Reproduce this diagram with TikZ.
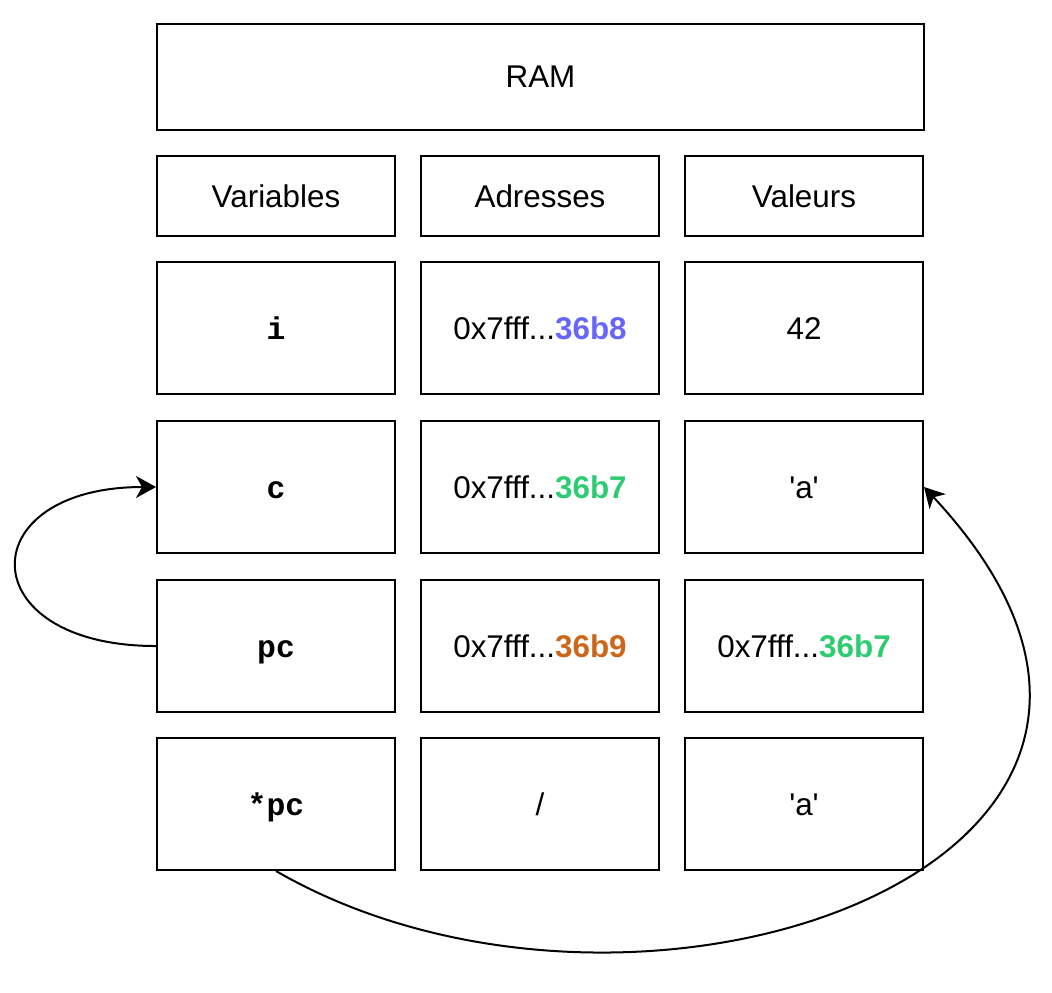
\documentclass[tikz,border=0pt]{standalone}
\usepackage{fontspec}
\setmainfont{Liberation Sans}
\setmonofont{Liberation Mono}
\usetikzlibrary{positioning,arrows.meta}

\definecolor{adrblue}{HTML}{6666FF}
\definecolor{adrgreen}{HTML}{2ECC71}
\definecolor{adrorange}{HTML}{CC6619}

\newcommand{\var}[1]{\texttt{\bfseries #1}}
\newcommand{\qa}{\textquotesingle a\textquotesingle}

\begin{document}
\begin{tikzpicture}[x=0.5pt, y=-0.5pt, font=\fontsize{15.7}{18}\selectfont,
			cell/.style={draw, line width=1pt, minimum width=119pt, inner sep=0pt,
				text height=12pt, text depth=1pt},
			head/.style={cell, minimum height=40pt},
			row/.style={cell, minimum height=66pt},
			link/.style={line width=1pt, -{Stealth[length=10pt,width=11pt,inset=3pt]}}]
		\useasboundingbox (0,0) rectangle (1052,992);
		\node[draw, line width=1pt, minimum width=383.5pt, minimum height=53pt] (ram) at (540.5,77) {RAM};
		% en-tetes
		\node[head, below right=12pt and 0pt of ram.south west] (hvar) {Variables};
		\node[head, right=12pt of hvar] (hadr) {Adresses};
		\node[head, right=12pt of hadr] (hval) {Valeurs};
		% i
		\node[row, below=12pt of hvar] (vi) {\var{i}};
		\node[row, right=12pt of vi] (ai) {0x7fff...\textcolor{adrblue}{\bfseries 36b8}};
		\node[row, right=12pt of ai] (wi) {42};
		% c
		\node[row, below=12.5pt of vi] (vc) {\var{c}};
		\node[row, right=12pt of vc] (ac) {0x7fff...\textcolor{adrgreen}{\bfseries 36b7}};
		\node[row, right=12pt of ac] (wc) {\qa};
		% pc
		\node[row, below=12.5pt of vc] (vpc) {\var{pc}};
		\node[row, right=12pt of vpc] (apc) {0x7fff...\textcolor{adrorange}{\bfseries 36b9}};
		\node[row, right=12pt of apc] (wpc) {0x7fff...\textcolor{adrgreen}{\bfseries 36b7}};
		% *pc
		\node[row, below=12pt of vpc] (vspc) {\var{*pc}};
		\node[row, right=12pt of vspc] (aspc) {/};
		\node[row, right=12pt of aspc] (wspc) {\qa};
		% pointeurs
		\draw[link] (vpc.west) to[out=180, in=180, looseness=3] (vc.west);
		\draw[link] (vspc.south) .. controls +(-30:210pt) and +(-47:255pt) .. (wc.east);
\end{tikzpicture}
\end{document}
